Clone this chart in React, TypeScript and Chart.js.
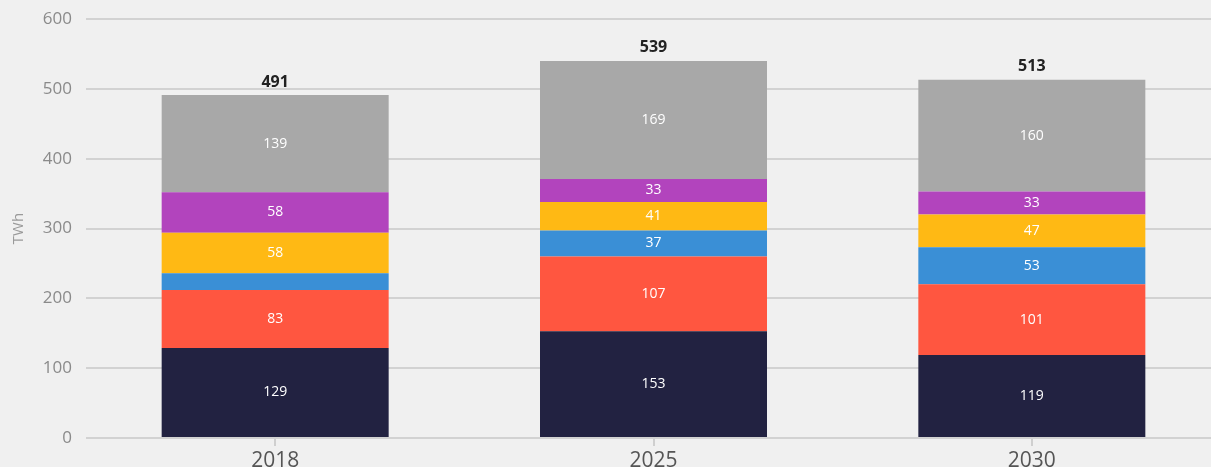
import React, { useEffect, useRef } from "react";
import { Chart, registerables } from "chart.js";

Chart.register(...registerables);

const categories = ["2018", "2025", "2030"];
const seriesNames = ["Base", "Source A", "Source B", "Source C", "Source D", "Other"];
const seriesColors = ["#222241", "#ff5640", "#3a8fd6", "#ffb914", "#b244bd", "#a8a8a8"];
const navyValues = [129, 153, 119];
const redValues = [83, 107, 101];
const blueValues = [24, 37, 53];
const yellowValues = [58, 41, 47];
const purpleValues = [58, 33, 33];
const grayValues = [139, 169, 160];
const totals = [491, 539, 513];
const yTicks = [0, 100, 200, 300, 400, 500, 600];

const FONT = "'Open Sans', 'Noto Sans', sans-serif";

const labelPlugin = {
  id: "segLabels",
  afterDatasetsDraw(chart: any) {
    const ctx = chart.ctx;
    ctx.save();
    ctx.textAlign = "center";
    ctx.textBaseline = "middle";
    chart.data.datasets.forEach((ds: any, di: number) => {
      const meta = chart.getDatasetMeta(di);
      meta.data.forEach((bar: any, i: number) => {
        const v = ds.data[i];
        const h = Math.abs(bar.base - bar.y);
        if (h < 20) return;
        ctx.fillStyle = "#ffffff";
        ctx.font = `14px ${FONT}`;
        ctx.fillText(String(v), bar.x, (bar.y + bar.base) / 2);
      });
    });
    const last = chart.getDatasetMeta(chart.data.datasets.length - 1);
    last.data.forEach((bar: any, i: number) => {
      ctx.fillStyle = "#222222";
      ctx.font = `bold 16px ${FONT}`;
      ctx.textBaseline = "bottom";
      ctx.fillText(String(totals[i]), bar.x, bar.y - 5);
    });
    ctx.restore();
  },
};

export default function App() {
  const ref = useRef<HTMLCanvasElement>(null);
  useEffect(() => {
    document.body.style.margin = "0";
    document.body.style.overflow = "hidden";
    document.body.style.background = "#f0f0f0";
    const values = [navyValues, redValues, blueValues, yellowValues, purpleValues, grayValues];
    const chart = new Chart(ref.current!, {
      type: "bar",
      data: {
        labels: categories,
        datasets: values.map((d, i) => ({
          label: seriesNames[i],
          data: d,
          backgroundColor: seriesColors[i],
          borderWidth: 0,
          barPercentage: 0.6,
          categoryPercentage: 1,
        })),
      },
      options: {
        responsive: false,
        animation: false,
        layout: { padding: { top: 19, right: 9, left: 0, bottom: 0 } },
        plugins: { legend: { display: false }, tooltip: { enabled: false } },
        scales: {
          x: {
            stacked: true,
            afterFit: (s: any) => { s.height = 29; s.paddingLeft = 0; s.paddingRight = 0; },
            grid: { offset: false, drawOnChartArea: false, drawTicks: true, tickLength: 8, color: "#cfcfcf", lineWidth: 2 },
            border: { display: false },
            ticks: { color: "#555555", font: { family: FONT, size: 21 }, padding: 2 },
          },
          y: {
            stacked: true,
            min: 0,
            max: 600,
            afterFit: (s: any) => { s.width = 86; s.paddingTop = 0; s.paddingBottom = 0; },
            afterBuildTicks: (s: any) => { s.ticks = yTicks.map((v) => ({ value: v })); },
            grid: { drawTicks: false, color: "#d2d2d2", lineWidth: 2 },
            border: { display: false },
            ticks: { color: "#8a8a8a", font: { family: FONT, size: 17 }, padding: 14 },
            title: { display: true, text: "TWh", color: "#9a9a9a", font: { family: FONT, size: 15 }, padding: { top: 10, bottom: 0 } },
          },
        },
      },
      plugins: [labelPlugin],
    });
    return () => chart.destroy();
  }, []);
  return (
    <div style={{ background: "#f0f0f0", width: 1211, height: 467, overflow: "hidden" }}>
      <canvas ref={ref} width={1230} height={467} style={{ display: "block" }} />
    </div>
  );
}
